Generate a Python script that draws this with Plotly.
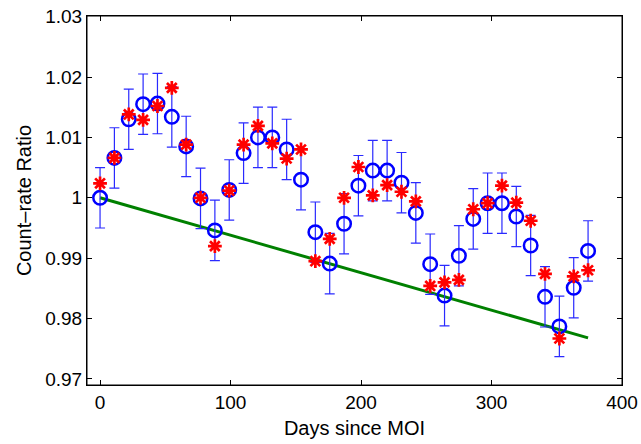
import plotly.graph_objects as go

days = [0, 11, 22, 33, 44, 55, 66, 77, 88, 99, 110, 121, 132, 143, 154, 165, 176,
        187, 198, 209, 220, 231, 242, 253, 264, 275, 286, 297, 308, 319, 330, 341,
        352, 363, 374]

ratio = [1.0000, 1.0066, 1.0130, 1.0155, 1.0156, 1.0134, 1.0085, 0.9999, 0.9946,
         1.0013, 1.0074, 1.0100, 1.0100, 1.0080, 1.0030, 0.9943, 0.9891, 0.9957,
         1.0020, 1.0045, 1.0045, 1.0025, 0.9975, 0.9890, 0.9838, 0.9904, 0.9965,
         0.9991, 0.9991, 0.9969, 0.9921, 0.9836, 0.9787, 0.9851, 0.9912]

ratio_err = [0.005, 0.005, 0.005, 0.005, 0.005, 0.005, 0.005, 0.005, 0.005,
             0.005, 0.005, 0.005, 0.005, 0.005, 0.005, 0.005, 0.005, 0.005,
             0.005, 0.005, 0.005, 0.005, 0.005, 0.005, 0.005, 0.005, 0.005,
             0.005, 0.005, 0.005, 0.005, 0.005, 0.005, 0.005, 0.005]

model = [1.0024, 1.0066, 1.0138, 1.0129, 1.0152, 1.0182, 1.0088, 1.0000, 0.9920,
         1.0012, 1.0088, 1.0119, 1.0090, 1.0065, 1.0080, 0.9895, 0.9932, 1.0000,
         1.0051, 1.0004, 1.0021, 1.0010, 0.9994, 0.9854, 0.9860, 0.9864, 0.9981,
         0.9991, 1.0020, 0.9992, 0.9962, 0.9874, 0.9767, 0.9870, 0.9880]

trend_x = [0, 374]
trend_y = [1.0000, 0.9768]

x_ticks = [0, 100, 200, 300, 400]
y_ticks = [0.97, 0.98, 0.99, 1.00, 1.01, 1.02, 1.03]
y_tick_labels = ["0.97", "0.98", "0.99", "1", "1.01", "1.02", "1.03"]

FONT = "Liberation Sans"
FS = 19

fig = go.Figure()

fig.add_trace(go.Scatter(
    x=trend_x, y=trend_y, mode="lines",
    line=dict(color="#008000", width=3), showlegend=False))

fig.add_trace(go.Scatter(
    x=days, y=ratio, mode="markers",
    marker=dict(symbol="circle-open", size=13.5, color="#0000ff",
                line=dict(color="#0000ff", width=2.5)),
    error_y=dict(type="data", array=ratio_err, visible=True,
                 color="#2a2aff", thickness=1.2, width=5),
    showlegend=False))

fig.add_trace(go.Scatter(
    x=days, y=model, mode="markers",
    marker=dict(symbol="asterisk-open", size=11.5, color="#ff0000",
                line=dict(color="#ff0000", width=2.7)),
    showlegend=False))

axis_common = dict(showline=True, linecolor="black", linewidth=1,
                   mirror="ticks", ticks="inside", ticklen=5,
                   tickcolor="black", tickwidth=1, showgrid=False,
                   zeroline=False, automargin=False,
                   tickfont=dict(family=FONT, size=FS, color="black"))

fig.update_layout(
    width=641, height=444,
    margin=dict(l=87, r=19, t=16, b=59),
    paper_bgcolor="white", plot_bgcolor="white",
    font=dict(family=FONT, size=FS, color="black"),
    xaxis=dict(range=[-10, 400], tickvals=x_ticks,
               title=dict(text="Days since MOI", standoff=9,
                          font=dict(family=FONT, size=20, color="black")),
               **axis_common),
    yaxis=dict(range=[0.969, 1.0301], tickvals=y_ticks, ticktext=y_tick_labels,
               title=dict(text="Count–rate Ratio", standoff=8,
                          font=dict(family=FONT, size=20, color="black")),
               **axis_common),
    shapes=[dict(type="rect", xref="paper", yref="paper", x0=0, x1=1, y0=0, y1=1,
                 line=dict(color="black", width=1), fillcolor="rgba(0,0,0,0)",
                 layer="above")],
)

fig.write_html("out.html",
               config={"displayModeBar": False},
               post_script="document.body.style.margin='0';document.body.style.overflow='hidden';")
